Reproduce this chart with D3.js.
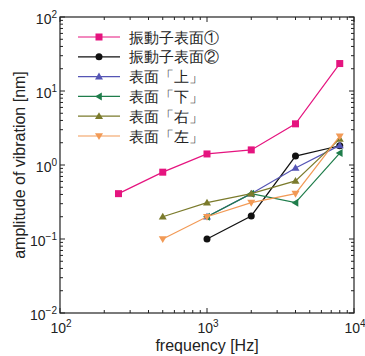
<!DOCTYPE html>
<html><head><meta charset="utf-8">
<script src="https://cdn.jsdelivr.net/npm/d3@7"></script>
<style>body{margin:0;background:#fff;} text{font-family:"Liberation Sans",Arial,sans-serif;}</style>
</head><body>
<svg id="c" width="365" height="356"></svg>
<script>
const freqs = [250, 500, 1000, 2000, 4000, 8000];
const seriesNames = ["振動子表面①", "振動子表面②", "表面「上」", "表面「下」", "表面「右」", "表面「左」"];
const s1 = [0.41, 0.80, 1.41, 1.60, 3.6, 23.5];
const s2 = [null, null, 0.10, 0.205, 1.32, 1.82];
const s3 = [null, null, 0.20, 0.41, 0.91, 1.84];
const s4 = [null, null, 0.20, 0.41, 0.31, 1.45];
const s5 = [null, 0.20, 0.31, 0.41, 0.61, 2.25];
const s6 = [null, 0.10, 0.20, 0.31, 0.41, 2.45];
const xTicks = [100, 1000, 10000];
const yTicks = [0.01, 0.1, 1, 10, 100];

const colors = ["#e5147f", "#111111", "#5555b5", "#1f7d4b", "#7b7b2c", "#f29a56"];
const markers = ["square", "circle", "triUp", "triLeft", "triUp", "triDown"];
const allSeries = [s1, s2, s3, s4, s5, s6];

const svg = d3.select("#c");
const L = 60, R = 354, T = 17, B = 313;
const x = d3.scaleLog().domain([100, 10000]).range([L, R]);
const y = d3.scaleLog().domain([0.01, 100]).range([B, T]);

// frame
svg.append("rect").attr("x", L).attr("y", T).attr("width", R - L).attr("height", B - T)
  .attr("fill", "none").attr("stroke", "#222").attr("stroke-width", 1.2);

// ticks
function minorTicks(dom) {
  const out = [];
  for (let e = Math.log10(dom[0]); e < Math.log10(dom[1]); e++)
    for (let k = 2; k <= 9; k++) out.push(k * Math.pow(10, e));
  return out;
}
const tg = svg.append("g").attr("stroke", "#222").attr("stroke-width", 1);
xTicks.forEach(v => {
  tg.append("line").attr("x1", x(v)).attr("x2", x(v)).attr("y1", B).attr("y2", B - 5);
  tg.append("line").attr("x1", x(v)).attr("x2", x(v)).attr("y1", T).attr("y2", T + 5);
});
minorTicks([100, 10000]).forEach(v => {
  tg.append("line").attr("x1", x(v)).attr("x2", x(v)).attr("y1", B).attr("y2", B - 3);
  tg.append("line").attr("x1", x(v)).attr("x2", x(v)).attr("y1", T).attr("y2", T + 3);
});
yTicks.forEach(v => {
  tg.append("line").attr("x1", L).attr("x2", L + 5).attr("y1", y(v)).attr("y2", y(v));
  tg.append("line").attr("x1", R).attr("x2", R - 5).attr("y1", y(v)).attr("y2", y(v));
});
minorTicks([0.01, 100]).forEach(v => {
  tg.append("line").attr("x1", L).attr("x2", L + 3).attr("y1", y(v)).attr("y2", y(v));
  tg.append("line").attr("x1", R).attr("x2", R - 3).attr("y1", y(v)).attr("y2", y(v));
});

// tick labels
function expLabel(g, v, xx, yy, anchor) {
  const e = Math.round(Math.log10(v));
  const t = g.append("text").attr("x", xx).attr("y", yy).attr("text-anchor", anchor)
    .attr("font-size", 14).attr("fill", "#222");
  t.append("tspan").text("10");
  t.append("tspan").attr("dy", -6).attr("font-size", 10).text(e < 0 ? "\u2212" + (-e) : e);
}
yTicks.forEach(v => expLabel(svg, v, 57, y(v) + 7, "end"));
xTicks.forEach(v => expLabel(svg, v, Math.min(x(v) + 1, 356), 333, "middle"));

// axis titles
svg.append("text").attr("x", 207).attr("y", 351).attr("text-anchor", "middle")
  .attr("font-size", 16).attr("fill", "#222").text("frequency [Hz]");
svg.append("text").attr("transform", `translate(25,${(T + B) / 2}) rotate(-90)`)
  .attr("text-anchor", "middle").attr("font-size", 16).attr("fill", "#222")
  .text("amplitude of vibration [nm]");

function drawMarker(g, type, cx, cy, col) {
  if (type === "square") {
    g.append("rect").attr("x", cx - 3.5).attr("y", cy - 3.5).attr("width", 7).attr("height", 7).attr("fill", col);
  } else if (type === "circle") {
    g.append("circle").attr("cx", cx).attr("cy", cy).attr("r", 3.5).attr("fill", col);
  } else {
    const r = 4;
    let pts;
    if (type === "triUp") pts = [[0, -r], [r, r * 0.7], [-r, r * 0.7]];
    if (type === "triDown") pts = [[0, r], [r, -r * 0.7], [-r, -r * 0.7]];
    if (type === "triLeft") pts = [[-r, 0], [r * 0.7, -r], [r * 0.7, r]];
    g.append("polygon").attr("points", pts.map(p => [cx + p[0], cy + p[1]].join(",")).join(" ")).attr("fill", col);
  }
}

// data
const line = d3.line().defined(d => d[1] != null).x(d => x(d[0])).y(d => y(d[1]));
allSeries.forEach((s, i) => {
  const pts = freqs.map((f, j) => [f, s[j]]);
  const g = svg.append("g");
  g.append("path").attr("d", line(pts)).attr("fill", "none").attr("stroke", colors[i]).attr("stroke-width", 1.2);
  pts.filter(d => d[1] != null).forEach(d => drawMarker(g, markers[i], x(d[0]), y(d[1]), colors[i]));
});

// legend
const lg = svg.append("g");
seriesNames.forEach((n, i) => {
  const yy = 37 + i * 19.8;
  lg.append("line").attr("x1", 78).attr("x2", 120).attr("y1", yy).attr("y2", yy)
    .attr("stroke", colors[i]).attr("stroke-width", 1.2);
  drawMarker(lg, markers[i], 99, yy, colors[i]);
  lg.append("text").attr("x", 129).attr("y", yy + 5.5).attr("font-size", 14.5)
    .attr("font-family", "'Noto Sans CJK JP',sans-serif").attr("fill", "#222").text(n);
});
</script>
</body></html>
